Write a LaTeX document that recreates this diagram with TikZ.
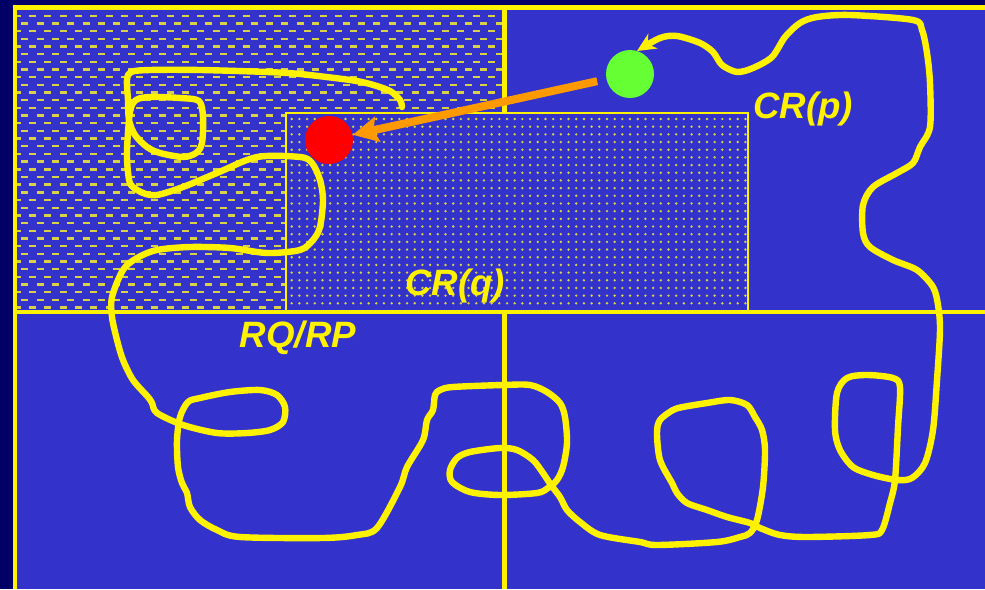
\documentclass[tikz,border=0pt]{standalone}
\usepackage{fontspec}
\setmainfont{Liberation Sans}
\usetikzlibrary{arrows.meta}
\definecolor{bgblue}{RGB}{51,51,204}
\definecolor{navy}{RGB}{0,0,102}
\definecolor{pat}{RGB}{218,210,70}
\definecolor{myorange}{RGB}{255,153,0}
\definecolor{mygreen}{RGB}{102,255,51}
\definecolor{myred}{RGB}{255,0,0}
\tikzset{
  framelin/.style={yellow, line width=3pt},
  curve/.style={yellow, line width=4.8pt, line cap=round, line join=round},
  lbl/.style={text=yellow, font=\fontsize{27.5}{30}\selectfont\bfseries\itshape, inner sep=0pt, anchor=base},
  ball/.style={circle, minimum size=36pt, inner sep=0pt},
  orangearrow/.style={myorange, line width=6pt, -{Stealth[length=19pt,width=19pt,inset=3pt]}}
}
\begin{document}
\begin{tikzpicture}[x=0.75pt,y=-0.75pt]
\useasboundingbox (0,0) rectangle (985,589);
% background
\fill[navy] (0,0) rectangle (985,589);
\fill[bgblue] (14,8) rectangle (985,589);
% dashed pattern in top-left cell
\begin{scope}
\clip (16.5,10) rectangle (502,310);
\draw[pat, line width=1.8pt]
  \foreach \r [evaluate=\r as \yy using {15.7+\r*7.68}, evaluate=\r as \ph using {13.7+7.65*mod(\r,2)}] in {0,...,38} {
    \foreach \c in {0,...,32} { (\ph+\c*15.3,\yy) -- ++(7,0) }
  };
\end{scope}
% frame lines
\draw[framelin, line width=3.75pt] (12.5,7.5) -- (985,7.5);
\draw[framelin] (14.5,5.5) -- (14.5,589);
\draw[framelin] (12.5,312) -- (985,312);
\draw[framelin, line width=3.4pt] (504.5,5.5) -- (504.5,113);
\draw[framelin, line width=3.4pt] (504.5,310) -- (504.5,589);
% dotted rectangle CR(q)
\fill[bgblue] (286,113) rectangle (748,310);
\fill[pat]
  \foreach \k in {0,...,24} {
    \foreach \j in {0,...,59} { (291.7+\j*7.69,119+\k*7.68) circle[radius=1pt] }
  };
\draw[yellow, line width=1.5pt] (286,311) -- (286,113) -- (748,113) -- (748,311);
% circles
\node[ball, fill=mygreen] (p) at (630,74) {};
\node[ball, fill=myred] (q) at (329,140) {};
% the yellow trajectory
\draw[curve, -{Stealth[length=14pt,width=13pt]}] plot[smooth, tension=0.5] coordinates {
(402,107) (400,100) (390,91) (370,84) (350,80) (300,74) (267,72) (200,70) (150,70) (131,72) (127,80) (128,100) (129,120) (135,135) (147,147) (160,153) (183,157) (196,153) (202,143) (203,117) (199,101) (180,98) (150,97) (136,100) (130,112) (127,150) (128,172) (131,185) (143,193) (157,195) (183,187) (217,173) (257,157) (300,157) (312,163) (320,180) (323,200) (320,227) (313,240) (300,250) (267,253) (230,248) (190,247) (157,250) (137,258) (123,270) (112,297) (112,317) (117,340) (123,360) (133,380) (148,397) (152,403) (157,413) (183,425) (217,433) (247,433) (270,430) (283,422) (285,407) (277,395) (260,390) (230,392) (200,398) (188,402) (180,417) (177,440) (178,467) (182,483) (187,493) (190,507) (200,520) (217,530) (240,537) (323,538) (357,535) (377,528) (400,487) (407,467) (423,440) (427,420) (433,410) (435,395) (440,390) (453,387) (503,385) (530,385) (547,392) (560,403) (565,417) (567,443) (563,467) (557,480) (548,488) (537,493) (500,495) (470,492) (452,482) (450,470) (457,458) (470,452) (500,448) (517,450) (533,460) (543,473) (551,485) (560,497) (567,510) (580,522) (600,535) (640,542) (657,545) (717,542) (740,537) (750,533) (757,520) (763,487) (765,450) (762,430) (755,417) (747,405) (730,400) (707,403) (683,407) (673,410) (660,420) (657,433) (660,460) (672,483) (677,493) (687,503) (707,510) (727,517) (750,523) (760,528) (780,535) (807,537) (870,535) (882,530) (890,503) (895,480) (898,427) (900,387) (893,378) (867,375) (847,378) (837,393) (835,430) (840,450) (853,467) (873,475) (897,480) (912,478) (925,463) (933,430) (937,380) (940,330) (938,305) (933,287) (917,270) (893,260) (870,247) (863,233) (863,205) (873,187) (897,173) (913,163) (920,147) (930,127) (930,83) (927,53) (922,30) (913,20) (850,15) (817,17) (800,23) (785,37) (772,57) (753,68) (737,72) (722,65) (713,52) (700,43) (677,36) (660,38) (637,51)
};
% orange arrow
\draw[orangearrow, shorten <=7pt] (p) -- (q);
% labels
\node[lbl] (lp) at (803,118) {CR(p)};
\node[lbl] (lq) at (455,295) {CR(q)};
\node[lbl] (lr) at (298,347) {RQ/RP};
\end{tikzpicture}
\end{document}
